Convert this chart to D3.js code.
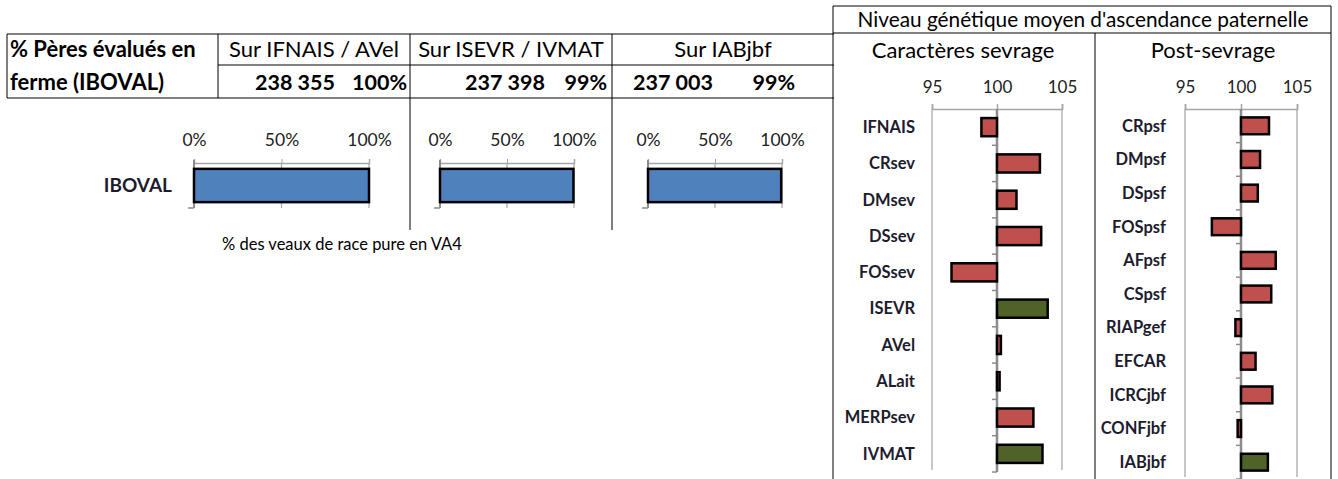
<!DOCTYPE html>
<html>
<head>
<meta charset="utf-8">
<script src="https://cdn.jsdelivr.net/npm/d3@7"></script>
<style>
  body { margin: 0; background: #fff; }
  svg { font-family: Lato, "Open Sans", sans-serif; }
  .cat { font-weight: bold; fill: #1c1c2e; font-size: 16.5px; }
  .tick text { fill: #222; }
</style>
</head>
<body>
<svg class="chart" width="1338" height="479"></svg>
<script>
// Table data
let tableHeaders = ["Sur IFNAIS / AVel", "Sur ISEVR / IVMAT", "Sur IABjbf"];
let tableCounts = ["238 355", "237 398", "237 003"];
let tablePct = ["100%", "99%", "99%"];

// IBOVAL mini bars (% des veaux)
let ibovalCats = ["IBOVAL"];
let ibovalVals = [100, 99.6, 99.4];
let pctTicks = [0, 50, 100];

// Caractères sevrage
let sevrageCats = ["IFNAIS", "CRsev", "DMsev", "DSsev", "FOSsev", "ISEVR", "AVel", "ALait", "MERPsev", "IVMAT"];
let sevrageVals = [98.8, 103.3, 101.5, 103.4, 96.5, 103.9, 100.3, 100.2, 102.8, 103.5];
let sevrageKind = ["r", "r", "r", "r", "r", "g", "r", "r", "r", "g"];

// Post-sevrage
let postCats = ["CRpsf", "DMpsf", "DSpsf", "FOSpsf", "AFpsf", "CSpsf", "RIAPgef", "EFCAR", "ICRCjbf", "CONFjbf", "IABjbf"];
let postVals = [102.5, 101.7, 101.5, 97.4, 103.1, 102.7, 99.5, 101.3, 102.8, 99.7, 102.4];
let postKind = ["r", "r", "r", "r", "r", "r", "r", "r", "r", "r", "g"];

let indexTicks = [95, 100, 105];
let kindColor = { r: "#C0504D", g: "#4F6228" };

var svg = d3.select(".chart");

function line(x1, y1, x2, y2, color, w) {
	svg.append("line")
	   .attr("x1", x1).attr("y1", y1)
	   .attr("x2", x2).attr("y2", y2)
	   .attr("stroke", color || "#000")
	   .attr("stroke-width", w || 1);
}

function text(x, y, t, size, anchor, weight) {
	return svg.append("text")
	   .attr("x", x).attr("y", y)
	   .attr("font-size", size)
	   .attr("text-anchor", anchor || "start")
	   .attr("font-weight", weight || "normal")
	   .attr("fill", "#000")
	   .text(t);
}

// ---- table grid ----
line(7, 34, 834, 34);
line(218, 65, 834, 65);
line(7, 98, 834, 98);
line(7, 34, 7, 98);
line(218, 34, 218, 98);
line(410, 34, 410, 230);
line(612, 34, 612, 230);

text(10, 57, "% Pères évalués en", 22, "start", "bold");
text(10, 90, "ferme (IBOVAL)", 22, "start", "bold");

let colCenters = [314, 511, 723];
let countRight = [335, 545, 713];
let pctRight = [407, 607, 795];
for (let i = 0; i < tableHeaders.length; i++) {
	text(colCenters[i], 57, tableHeaders[i], 22, "middle");
	text(countRight[i], 90, tableCounts[i], 21.5, "end", "bold");
	text(pctRight[i], 90, tablePct[i], 21.5, "end", "bold");
}

// ---- IBOVAL mini bar charts ----
let miniRanges = [[194, 369], [440, 574], [648, 782]];
for (let i = 0; i < miniRanges.length; i++) {
	var xScale = d3.scaleLinear().domain([0, 100]).range(miniRanges[i]);
	var yScale = d3.scaleBand().domain(ibovalCats).range([163, 208]).padding(0.15);

	let g = svg.append("g");
	// gridlines
	g.selectAll(".grid")
	 .data(pctTicks)
	 .enter()
	 .append("line")
	 .attr("x1", d => xScale(d)).attr("x2", d => xScale(d))
	 .attr("y1", 163).attr("y2", 208)
	 .attr("stroke", "#a6a6a6").attr("stroke-width", 1.2);

	let ax = g.append("g")
	  .attr("transform", "translate(0,163)")
	  .call(d3.axisTop(xScale).tickValues(pctTicks).tickFormat(d => d + "%").tickSize(4).tickPadding(13));
	ax.select(".domain").attr("stroke", "#a6a6a6").attr("stroke-width", 1.5);
	ax.selectAll(".tick line").attr("stroke", "#a6a6a6");
	ax.selectAll("text").attr("font-size", 17.5).attr("font-family", "Lato");

	// category axis
	g.append("line")
	 .attr("x1", xScale(0)).attr("x2", xScale(0))
	 .attr("y1", 160).attr("y2", 208)
	 .attr("stroke", "#8c8c8c").attr("stroke-width", 2);
	g.append("line")
	 .attr("x1", xScale(0) - 6).attr("x2", xScale(0))
	 .attr("y1", 208).attr("y2", 208)
	 .attr("stroke", "#8c8c8c").attr("stroke-width", 1.5);

	g.append("rect")
	 .attr("x", xScale(0))
	 .attr("y", yScale("IBOVAL"))
	 .attr("width", xScale(ibovalVals[i]) - xScale(0))
	 .attr("height", yScale.bandwidth())
	 .attr("fill", "#4F81BD")
	 .attr("stroke", "#000")
	 .attr("stroke-width", 2.5);
}
text(172, 192, "IBOVAL", 19, "end", "bold").attr("fill", "#1c1c2e");
text(222, 250, "% des veaux de race pure en VA4", 16.5, "start");

// ---- right panel ----
line(833, 6, 1331, 6);
line(833, 6, 833, 479);
line(1331, 6, 1331, 479);
line(833, 33, 1331, 33);
line(1095, 33, 1095, 479);

text(1083, 27, "Niveau génétique moyen d'ascendance paternelle", 20.8, "middle");
text(963, 58, "Caractères sevrage", 22, "middle");
text(1213, 58, "Post-sevrage", 22, "middle");

function plotIndex(cats, vals, kinds, xRange, yRange, labelX) {
	var xScale = d3.scaleLinear().domain([95, 105]).range(xRange);
	var yScale = d3.scaleBand().domain(cats).range(yRange).paddingInner(0.5).paddingOuter(0.25);

	let g = svg.append("g");

	g.selectAll(".grid")
	 .data([95, 105])
	 .enter()
	 .append("line")
	 .attr("x1", d => xScale(d)).attr("x2", d => xScale(d))
	 .attr("y1", yRange[0]).attr("y2", yRange[1] - 2)
	 .attr("stroke", "#b4b4b4").attr("stroke-width", 1.5);

	let ax = g.append("g")
	  .attr("transform", `translate(0, ${yRange[0]})`)
	  .call(d3.axisTop(xScale).tickValues(indexTicks).tickSize(5).tickPadding(11));
	ax.select(".domain").attr("stroke", "#a6a6a6").attr("stroke-width", 1.5);
	ax.selectAll(".tick line").attr("stroke", "#a6a6a6").attr("stroke-width", 1.5);
	ax.selectAll("text").attr("font-size", 17).attr("font-family", "Lato");

	// category axis at 100 with minor ticks on band boundaries
	g.append("line")
	 .attr("x1", xScale(100)).attr("x2", xScale(100))
	 .attr("y1", yRange[0]).attr("y2", yRange[1])
	 .attr("stroke", "#8c8c8c").attr("stroke-width", 2.5);
	let step = yScale.step();
	let bounds = cats.map((c, i) => yRange[0] + step * (i + 1));
	g.selectAll(".btick")
	 .data(bounds)
	 .enter()
	 .append("line")
	 .attr("x1", xScale(100) - 5).attr("x2", xScale(100))
	 .attr("y1", d => d).attr("y2", d => d)
	 .attr("stroke", "#8c8c8c").attr("stroke-width", 1.5);

	g.selectAll(".bar")
	 .data(vals)
	 .enter()
	 .append("rect")
	 .attr("x", d => Math.min(xScale(d), xScale(100)))
	 .attr("y", (d, i) => yScale(cats[i]))
	 .attr("width", d => Math.max(Math.abs(xScale(d) - xScale(100)), 1))
	 .attr("height", yScale.bandwidth())
	 .attr("fill", (d, i) => kindColor[kinds[i]])
	 .attr("stroke", "#000")
	 .attr("stroke-width", 2.5);

	g.selectAll(".cat")
	 .data(cats)
	 .enter()
	 .append("text")
	 .attr("class", "cat")
	 .attr("x", labelX)
	 .attr("y", d => yScale(d) + yScale.bandwidth() / 2)
	 .attr("dy", "0.35em")
	 .attr("text-anchor", "end")
	 .text(d => d);
}

plotIndex(sevrageCats, sevrageVals, sevrageKind, [932, 1062], [109, 472], 915);
plotIndex(postCats, postVals, postKind, [1185, 1297], [109, 479], 1166);
</script>
</body>
</html>
